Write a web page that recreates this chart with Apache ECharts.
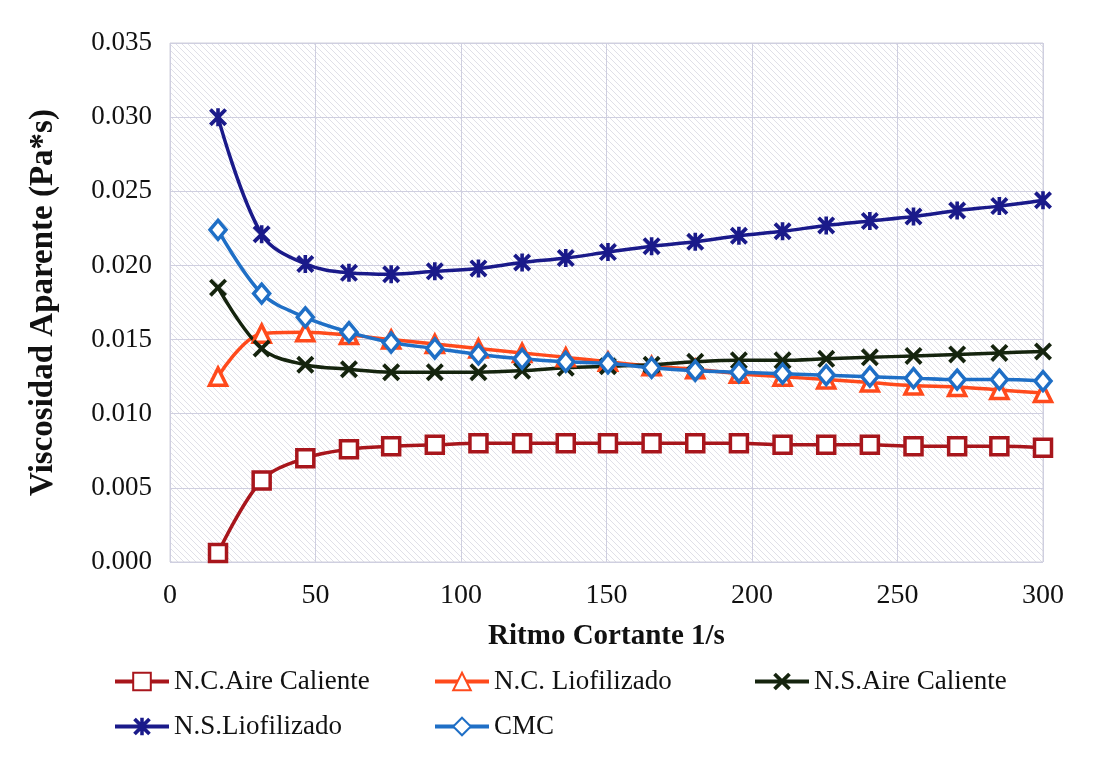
<!DOCTYPE html>
<html>
<head>
<meta charset="utf-8">
<script src="https://cdn.jsdelivr.net/npm/echarts@6/dist/echarts.min.js"></script>
<style>
  html, body { margin: 0; padding: 0; background: #fff; }
  #chart { width: 1098px; height: 759px; }
</style>
</head>
<body>
<div id="chart"></div>
<script>
// --- DATEN ---
const ritmo = [16.5, 31.5, 46.5, 61.5, 76, 91, 106, 121, 136, 150.5, 165.5, 180.5, 195.5, 210.5, 225.5, 240.5, 255.5, 270.5, 285, 300];

const ncAire = [0.0006, 0.0055, 0.0070, 0.0076, 0.0078, 0.0079, 0.0080, 0.0080, 0.0080, 0.0080, 0.0080, 0.0080, 0.0080, 0.0079, 0.0079, 0.0079, 0.0078, 0.0078, 0.0078, 0.0077];
const ncLiof = [0.0125, 0.0154, 0.0155, 0.0153, 0.0150, 0.0147, 0.0144, 0.0141, 0.0138, 0.0135, 0.0132, 0.0130, 0.0127, 0.0125, 0.0123, 0.0121, 0.0119, 0.0118, 0.0116, 0.0114];
const nsAire = [0.0185, 0.0144, 0.0133, 0.0130, 0.0128, 0.0128, 0.0128, 0.0129, 0.0131, 0.0132, 0.0133, 0.0135, 0.0136, 0.0136, 0.0137, 0.0138, 0.0139, 0.0140, 0.0141, 0.0142];
const nsLiof = [0.0300, 0.0221, 0.0201, 0.0195, 0.0194, 0.0196, 0.0198, 0.0202, 0.0205, 0.0209, 0.0213, 0.0216, 0.0220, 0.0223, 0.0227, 0.0230, 0.0233, 0.0237, 0.0240, 0.0244];
const cmc    = [0.0224, 0.0181, 0.0165, 0.0155, 0.0148, 0.0144, 0.0140, 0.0137, 0.0135, 0.0134, 0.0131, 0.0129, 0.0128, 0.0127, 0.0126, 0.0125, 0.0124, 0.0123, 0.0123, 0.0122];

const nombres = ['N.C.Aire Caliente', 'N.C. Liofilizado', 'N.S.Aire Caliente', 'N.S.Liofilizado', 'CMC'];

// --- MARKER-FORMEN ---
const xPath = 'path://M0,3 L3,0 L10,7 L17,0 L20,3 L13,10 L20,17 L17,20 L10,13 L3,20 L0,17 L7,10 Z';
const starPath = xPath + ' M8,0 L12,0 L12,20 L8,20 Z';

// Schraffur im Plotbereich
const hatch = document.createElement('canvas');
hatch.width = 6; hatch.height = 6;
const hc = hatch.getContext('2d');
hc.fillStyle = '#ffffff';
hc.fillRect(0, 0, 6, 6);
hc.strokeStyle = '#e0e0e8';
hc.lineWidth = 1;
hc.beginPath();
hc.moveTo(-1, -1); hc.lineTo(7, 7);
hc.moveTo(-1, 5); hc.lineTo(1, 7);
hc.moveTo(5, -1); hc.lineTo(7, 1);
hc.stroke();

const serif = 'Liberation Serif';
const pares = arr => ritmo.map((x, i) => [x, arr[i]]);

function linea(name, data, color, symbol, size, hollow) {
    return {
        name: name,
        type: 'line',
        data: pares(data),
        smooth: 0.35,
        symbol: symbol,
        symbolSize: size,
        showAllSymbol: true,
        lineStyle: { color: color, width: 3.5 },
        itemStyle: hollow
            ? { color: '#fff', borderColor: color, borderWidth: 3.5 }
            : { color: color, borderWidth: 0 },
        emphasis: { disabled: true }
    };
}

const leyenda = {
    top: 663, orient: 'vertical', itemGap: 18, itemWidth: 54, itemHeight: 22,
    lineStyle: { width: 4 },
    textStyle: { fontFamily: serif, fontSize: 27, color: '#111' }
};

const chart = echarts.init(document.getElementById('chart'));

chart.setOption({
    backgroundColor: '#fff',
    animation: false,
    textStyle: { fontFamily: serif },
    grid: {
        left: 170, right: 55, top: 43, bottom: 197,
        show: true,
        backgroundColor: { image: hatch, repeat: 'repeat' },
        borderColor: '#d0d0dc',
        borderWidth: 1
    },
    xAxis: {
        type: 'value',
        min: 0, max: 300, interval: 50,
        name: 'Ritmo Cortante 1/s',
        nameLocation: 'middle',
        nameGap: 60,
        nameTextStyle: { fontFamily: serif, fontSize: 29, fontWeight: 'bold', color: '#111' },
        axisLine: { show: false },
        axisTick: { show: false },
        axisLabel: { fontFamily: serif, fontSize: 28, color: '#111', margin: 20 },
        splitLine: { show: true, lineStyle: { color: '#cfcfe0', width: 1 } }
    },
    yAxis: {
        type: 'value',
        min: 0, max: 0.035, interval: 0.005,
        name: 'Viscosidad Aparente (Pa*s)',
        nameLocation: 'middle',
        nameGap: 110,
        nameTextStyle: { fontFamily: serif, fontSize: 33, fontWeight: 'bold', color: '#111' },
        axisLine: { show: false },
        axisTick: { show: false },
        axisLabel: {
            fontFamily: serif, fontSize: 27, color: '#111', margin: 18,
            formatter: v => v.toFixed(3)
        },
        splitLine: { show: true, lineStyle: { color: '#cfcfe0', width: 1 } }
    },
    legend: [
        Object.assign({ left: 108, data: [nombres[0], nombres[3]] }, leyenda),
        Object.assign({ left: 428, data: [nombres[1], nombres[4]] }, leyenda),
        Object.assign({ left: 748, data: [nombres[2]] }, leyenda)
    ],
    series: [
        linea(nombres[0], ncAire, '#a8161c', 'rect', 17, true),
        linea(nombres[1], ncLiof, '#ff4a1c', 'triangle', 17, true),
        linea(nombres[2], nsAire, '#15240e', xPath, 18, false),
        linea(nombres[3], nsLiof, '#1a1a8a', starPath, 18, false),
        linea(nombres[4], cmc, '#1f6fc6', 'diamond', [16, 19], true)
    ]
});
</script>
</body>
</html>
